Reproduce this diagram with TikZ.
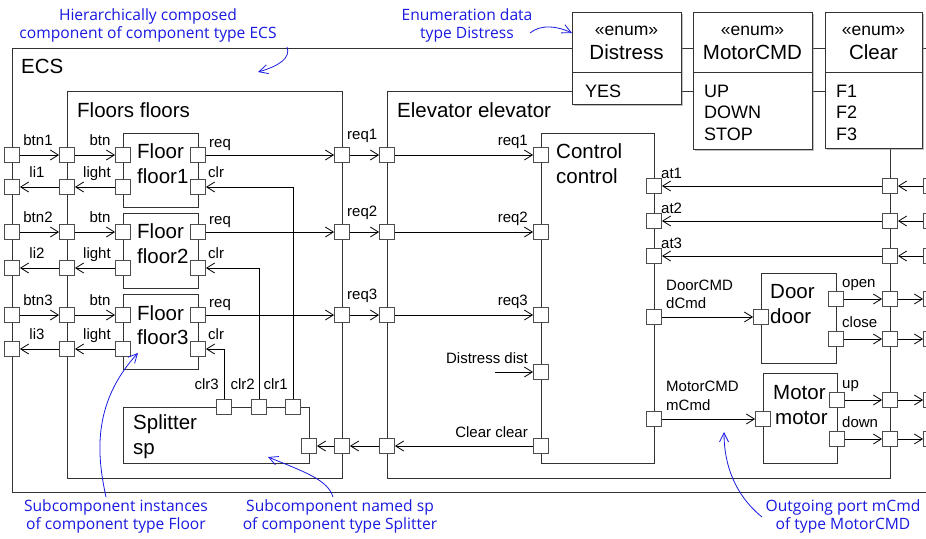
\documentclass[tikz,border=0pt]{standalone}
\usepackage{fontspec}
\setmainfont{Liberation Sans}
\newfontfamily\notefont{Open Sans}
\usetikzlibrary{arrows.meta,shadows}
\definecolor{notecol}{RGB}{25,25,225}
\tikzset{
  box/.style={draw=black!80, line width=0.9pt, inner sep=0pt, anchor=north west},
  enumbox/.style={box, fill=white, drop shadow={shadow xshift=2pt, shadow yshift=-2pt}},
  port/.style={draw=black!70, fill=white, minimum size=15pt, inner sep=0pt, line width=0.9pt},
  flow/.style={line width=0.8pt, -{Straight Barb[length=8pt,width=10pt]}},
  lbl/.style={font=\fontsize{15}{18}\selectfont, inner sep=0pt},
  big/.style={font=\fontsize{20.5}{24}\selectfont, inner sep=0pt, anchor=base west},
  stereo/.style={font=\fontsize{17.5}{20}\selectfont, inner sep=0pt, anchor=base},
  ename/.style={font=\fontsize{20.5}{24}\selectfont, inner sep=0pt, anchor=base},
  eitem/.style={font=\fontsize{18}{21}\selectfont, inner sep=0pt, anchor=base west},
  note/.style={text=notecol, font=\notefont\fontsize{15.6}{18}\selectfont, align=center, inner sep=0pt},
  noteline/.style={draw=notecol, line width=0.8pt, -{Straight Barb[length=9pt,width=9pt]}},
}
\begin{document}
\begin{tikzpicture}[x=1pt,y=-1pt]
\clip (0,0) rectangle (926,538);
% ---- component boxes
\node[box, minimum width=919pt, minimum height=444pt] (ecs) at (12,48) {};
\node[box, minimum width=275pt, minimum height=387pt] (floors) at (67,91) {};
\node[box, minimum width=503pt, minimum height=387pt] (elev) at (387,91) {};
\node[box, minimum width=75pt, minimum height=74pt] (floorA) at (123,133) {};
\node[box, minimum width=75pt, minimum height=75pt] (floorB) at (123,213) {};
\node[box, minimum width=75pt, minimum height=75pt] (floorC) at (123,294) {};
\node[box, minimum width=186pt, minimum height=56pt] (sp) at (123,407) {};
\node[box, minimum width=113pt, minimum height=330pt] (ctrl) at (541,133) {};
\node[box, minimum width=75pt, minimum height=90pt] (door) at (761,273) {};
\node[box, minimum width=74pt, minimum height=90pt] (motor) at (763,373) {};
% ---- box titles
\node[big] at (21,73) {ECS};
\node[big] at (77,117) {Floors floors};
\node[big] at (397,117) {Elevator elevator};
\node[big] at (137,158) {Floor};
\node[big] at (137,183) {floor1};
\node[big] at (137,238) {Floor};
\node[big] at (137,263) {floor2};
\node[big] at (137,320) {Floor};
\node[big] at (137,344) {floor3};
\node[big] at (133,429) {Splitter};
\node[big] at (133,454) {sp};
\node[big] at (556,158) {Control};
\node[big] at (556,183) {control};
\node[big] at (770,298) {Door};
\node[big] at (770,323) {door};
\node[big] at (773,399) {Motor};
\node[big] at (775,424) {motor};
% ---- floor rows
\foreach \k/\yb/\yl in {1/155/187, 2/232/268, 3/315/349}{
  \node[port] (eb\k) at (12,\yb) {};
  \node[port] (el\k) at (12,\yl) {};
  \node[port] (fb\k) at (67,\yb) {};
  \node[port] (fl\k) at (67,\yl) {};
  \node[port] (nb\k) at (123,\yb) {};
  \node[port] (nl\k) at (123,\yl) {};
  \node[port] (nr\k) at (198,\yb) {};
  \node[port] (nc\k) at (198,\yl) {};
  \node[port] (fr\k) at (342,\yb) {};
  \node[port] (vr\k) at (387,\yb) {};
  \node[port] (cr\k) at (541,\yb) {};
  \draw[flow] (eb\k) -- (fb\k);
  \draw[flow] (fb\k) -- (nb\k);
  \draw[flow] (nl\k) -- (fl\k);
  \draw[flow] (fl\k) -- (el\k);
  \draw[flow] (nr\k) -- (fr\k);
  \draw[flow] (fr\k) -- (vr\k);
  \draw[flow] (vr\k) -- (cr\k);
  \node[lbl, anchor=base] at (38,\yb-10) {btn\k};
  \node[lbl, anchor=base] at (37,\yl-9.5) {li\k};
  \node[lbl, anchor=base] at (100,\yb-10) {btn};
  \node[lbl, anchor=base] at (97,\yl-9.5) {light};
  \node[lbl, anchor=base west] at (209,\yb-8) {req};
  \node[lbl, anchor=base west] at (208,\yl-9.5) {clr};
  \node[lbl, anchor=base west] at (347,\yb-16) {req\k};
  \node[lbl, anchor=base east] at (528,\yb-10) {req\k};
}
% ---- splitter
\node[port] (spc3) at (224,407) {};
\node[port] (spc2) at (259,407) {};
\node[port] (spc1) at (293,407) {};
\node[port] (spin) at (309,446) {};
\draw[flow] (spc1) |- (nc1);
\draw[flow] (spc2) |- (nc2);
\draw[flow] (spc3) |- (nc3);
\node[lbl, anchor=base east] at (219,389) {clr3};
\node[lbl, anchor=base east] at (255,389) {clr2};
\node[lbl, anchor=base east] at (288,389) {clr1};
% ---- clear path
\node[port] (fcl) at (342,446) {};
\node[port] (vcl) at (387,446) {};
\node[port] (ccl) at (541,446) {};
\draw[flow] (ccl) -- (vcl);
\draw[flow] (vcl) -- (fcl);
\draw[flow] (fcl) -- (spin);
\node[lbl, anchor=base east] at (528,437) {Clear clear};
% ---- distress input
\node[port] (cdist) at (541,372) {};
\coordinate (dsrc) at (495,372);
\draw[flow] (dsrc) -- (cdist);
\node[lbl, anchor=base east] at (528,363) {Distress dist};
% ---- at inputs
\foreach \k/\ya in {1/186, 2/221, 3/256}{
  \node[port] (ca\k) at (654,\ya) {};
  \node[port] (va\k) at (890,\ya) {};
  \node[port] (ea\k) at (931,\ya) {};
  \draw[flow] (ea\k) -- (va\k);
  \draw[flow] (va\k) -- (ca\k);
  \node[lbl, anchor=base west] at (661,\ya-8) {at\k};
}
% ---- commands
\node[port] (cdc) at (654,317) {};
\node[port] (cmc) at (654,419) {};
\node[port] (dd) at (761,317) {};
\node[port] (mm) at (763,419) {};
\draw[flow] (cdc) -- (dd);
\draw[flow] (cmc) -- (mm);
\node[lbl, anchor=base west] at (666,290) {DoorCMD};
\node[lbl, anchor=base west] at (666,308) {dCmd};
\node[lbl, anchor=base west] at (666,391) {MotorCMD};
\node[lbl, anchor=base west] at (666,410) {mCmd};
% ---- door / motor outputs
\foreach \nm/\x/\y/\t in {do/836/299/open, dc/836/339/close, mu/837/400/up, md/837/439/down}{
  \node[port] (p\nm) at (\x,\y) {};
  \node[port] (v\nm) at (890,\y) {};
  \node[port] (e\nm) at (931,\y) {};
  \draw[flow] (p\nm) -- (v\nm);
  \draw[flow] (v\nm) -- (e\nm);
  \node[lbl, anchor=base west] at (842,\y-12) {\t};
}
% ---- enumeration types
\node[enumbox, minimum width=109pt, minimum height=92pt] (distress) at (572,12) {};
\node[enumbox, minimum width=119pt, minimum height=137pt] (motorcmd) at (693,12) {};
\node[enumbox, minimum width=97pt, minimum height=136pt] (clear) at (825,12) {};
\draw[black!80, line width=0.9pt] (572,72) -- (681,72);
\draw[black!80, line width=0.9pt] (693,72) -- (812,72);
\draw[black!80, line width=0.9pt] (825,72) -- (922,72);
\node[stereo] at (626.5,35) {«enum»};
\node[ename] at (626.5,59) {Distress};
\node[eitem] at (585,97) {YES};
\node[stereo] at (752.5,35) {«enum»};
\node[ename] at (752.5,59) {MotorCMD};
\node[eitem] at (704,97) {UP};
\node[eitem] at (704,118.5) {DOWN};
\node[eitem] at (704,140) {STOP};
\node[stereo] at (873.5,35) {«enum»};
\node[ename] at (873.5,59) {Clear};
\node[eitem] at (836,97) {F1};
\node[eitem] at (836,118.5) {F2};
\node[eitem] at (836,140) {F3};
% ---- annotations
\node[note] (n1) at (148,25) {Hierarchically composed\\component of component type ECS};
\coordinate (n1s) at (287,47);
\coordinate (n1t) at (258,72);
\draw[noteline] (n1s) .. controls (291,58) and (279,66) .. (n1t);
\node[note] (n2) at (467,25) {Enumeration data\\type Distress};
\coordinate (n2s) at (530,33);
\draw[noteline] (n2s) .. controls (541,24) and (557,26) .. (distress.west |- n2s);
\node[note] (n3) at (116,516) {Subcomponent instances\\of component type Floor};
\coordinate (n3s) at (106,497);
\coordinate (n3t) at (138,353);
\draw[noteline] (n3s) .. controls (98,460) and (90,405) .. (n3t);
\node[note] (n4) at (340,516) {Subcomponent named sp\\of component type Splitter};
\coordinate (n4s) at (333,497);
\coordinate (n4t) at (268,457);
\draw[noteline] (n4s) .. controls (328,480) and (305,472) .. (n4t);
\node[note] (n5) at (843,516) {Outgoing port mCmd\\of type MotorCMD};
\coordinate (n5s) at (762,517);
\coordinate (n5t) at (724,432);
\draw[noteline] (n5s) .. controls (735,495) and (724,465) .. (n5t);
\end{tikzpicture}
\end{document}
